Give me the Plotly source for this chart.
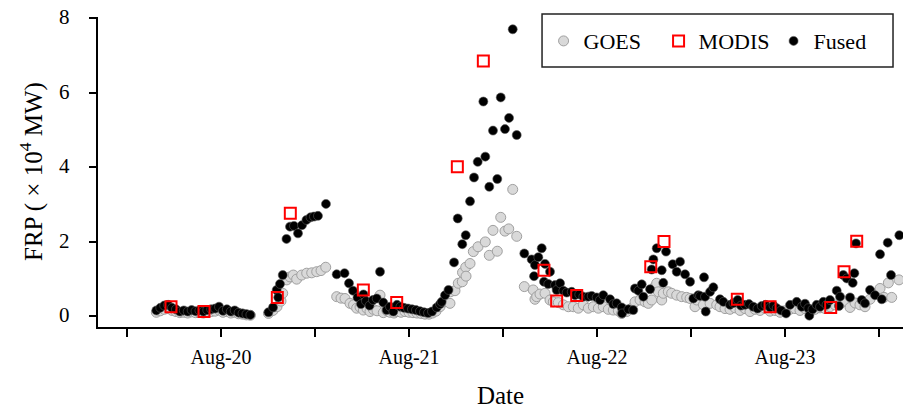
import plotly.graph_objects as go

# hours since Aug-19 00:00
goes_hours = [15.75, 16.25, 16.75, 17.25, 17.75, 18.25, 18.75, 19.25, 19.75, 20.25, 20.75, 21.25, 21.75,
              22.25, 22.75, 23.25, 23.75, 24.25, 24.75, 25.25, 25.75, 26.25, 26.75, 27.25, 27.75,
              30.06, 30.64, 31.15, 31.66, 31.88, 32.39, 32.81, 33.23, 33.66, 34.30, 34.94, 35.58, 36.22, 36.77, 37.37,
              38.77, 39.32, 39.83, 40.47, 40.92, 41.32, 41.75, 42.17, 42.64, 43.02, 43.44, 43.92, 44.30, 44.72,
              45.19, 45.57, 46.09, 46.47, 46.98, 47.49, 48.00, 48.51, 49.02, 49.53, 50.04, 50.55, 51.00, 51.45,
              51.96, 52.47, 53.23, 53.29, 53.87, 54.29, 54.80, 54.83, 55.24, 55.28, 55.79, 56.21, 56.81, 57.74,
              58.25, 58.72, 59.27, 59.71, 60.25, 60.73, 61.24, 61.75, 62.72,
              63.85, 64.08, 64.30, 64.72, 65.36, 66.00, 66.42, 67.06, 67.70, 68.34, 68.98, 69.61, 70.25, 70.89,
              71.53, 72.17, 72.80, 73.44, 74.08, 74.72, 75.15, 75.79, 76.43, 76.85, 77.49, 78.13, 78.55, 78.98,
              79.40, 79.62, 79.83, 80.26, 80.46, 81.10, 81.53, 82.17, 82.81, 83.45, 83.88, 84.51, 84.73, 85.58,
              86.43, 87.28,
              87.70, 88.34, 88.98, 89.62, 90.26, 90.89, 91.53, 92.17, 92.81, 93.45, 94.09, 94.72, 95.36, 96.00,
              96.64, 97.28, 97.91, 98.55, 99.19, 99.83, 100.47, 101.11, 101.74, 102.38, 103.02, 103.66, 104.30,
              104.94, 105.57, 106.21, 106.85, 107.49, 108.13, 108.64, 109.19, 109.62, 110.55]
goes_frp = [0.10, 0.14, 0.18, 0.20, 0.15, 0.12, 0.09, 0.10, 0.08, 0.11, 0.09, 0.10, 0.08,
            0.11, 0.12, 0.13, 0.16, 0.10, 0.12, 0.08, 0.10, 0.06, 0.05, 0.03, 0.02,
            0.07, 0.15, 0.25, 0.40, 0.61, 0.97, 1.05, 1.10, 0.99, 1.10, 1.15, 1.16, 1.19, 1.22, 1.31,
            0.52, 0.48, 0.47, 0.34, 0.30, 0.21, 0.24, 0.16, 0.20, 0.12, 0.18, 0.14, 0.56, 0.09,
            0.14, 0.10, 0.08, 0.12, 0.10, 0.12, 0.10, 0.09, 0.08, 0.07, 0.05, 0.05, 0.08, 0.13,
            0.25, 0.38, 0.34, 0.65, 0.68, 0.88, 0.92, 1.17, 1.31, 1.07, 1.41, 1.73, 1.86, 1.99,
            1.63, 2.30, 1.74, 2.65, 2.28, 2.34, 3.40, 2.14, 0.79,
            0.70, 0.45, 0.52, 0.59, 0.61, 0.43, 0.38, 0.36, 0.30, 0.25, 0.25, 0.21, 0.30, 0.21,
            0.25, 0.21, 0.25, 0.18, 0.16, 0.14, 0.07, 0.12, 0.21, 0.38, 0.43, 0.38, 0.34, 0.43,
            0.79, 0.88, 0.65, 0.43, 0.61, 0.65, 0.61, 0.56, 0.52, 0.50, 0.47, 0.25, 0.43, 0.30,
            0.34, 0.30,
            0.25, 0.20, 0.18, 0.22, 0.15, 0.20, 0.12, 0.18, 0.15, 0.20, 0.13, 0.15, 0.10, 0.14,
            0.18, 0.20, 0.15, 0.20, 0.12, 0.18, 0.22, 0.20, 0.25, 0.30, 0.32, 0.40, 0.23,
            0.35, 0.30, 0.25, 0.45, 0.60, 0.74, 0.50, 0.89, 0.50, 0.97]

modis_hours = [17.62, 21.83, 31.19, 32.85, 42.17, 46.43, 54.17, 57.49, 65.23, 66.85, 69.41,
               78.86, 80.55, 89.91, 94.09, 101.83, 103.53, 105.15]
modis_frp = [0.25, 0.12, 0.50, 2.76, 0.70, 0.36, 4.01, 6.85, 1.23, 0.40, 0.55,
             1.32, 2.00, 0.45, 0.25, 0.23, 1.19, 2.01]

fused_hours = [15.75, 16.25, 16.75, 17.25, 17.75, 18.25, 18.75, 19.25, 19.75, 20.25, 20.75, 21.25, 21.75,
               22.25, 22.75, 23.25, 23.75, 24.25, 24.75, 25.25, 25.75, 26.25, 26.75, 27.25, 27.75,
               30.06, 30.64, 31.11, 31.31, 31.53, 31.88, 32.36, 32.81, 33.32, 33.83, 34.34, 34.91, 35.43,
               35.87, 36.38, 37.40,
               38.77, 39.77, 40.34, 40.85, 41.43, 41.87, 42.19, 42.51, 42.96, 43.40, 43.88, 44.30, 44.72,
               45.15, 45.57, 46.00, 46.47, 46.91, 47.36, 47.87, 48.38, 48.89, 49.40, 49.91, 50.43, 50.94,
               51.54, 51.96, 52.17, 52.60, 53.04, 53.75, 54.22, 54.80, 55.24, 55.79, 56.30, 56.77, 57.49,
               57.74, 58.25, 58.72, 59.27, 59.71, 60.25, 60.77, 61.24, 61.75, 62.72,
               63.66, 63.96, 64.08, 64.51, 64.94, 65.23, 65.36, 65.78, 66.00, 66.64, 66.85, 67.28, 67.70,
               68.13, 68.77, 69.19, 69.74, 70.25, 70.89, 71.32, 71.96, 72.38, 72.80, 73.66, 74.08, 74.51,
               75.15, 75.20, 76.00, 76.63, 76.85, 77.27, 77.71, 77.91, 78.77, 78.98, 79.19, 79.62, 80.26,
               80.46, 80.81, 81.66, 82.17, 82.60, 83.24, 83.88, 84.30, 84.93, 85.15, 85.66,
               85.79, 85.88, 86.43, 86.85, 87.70, 88.13, 88.98, 89.42, 89.96, 90.38, 90.89, 91.40, 91.95,
               92.49, 93.03, 93.51, 94.09, 94.53, 94.94, 95.49, 96.13, 96.64, 97.49, 98.13, 98.55, 98.97,
               99.10, 99.51, 100.04, 100.47, 100.89, 101.30, 101.74, 102.60, 102.89, 103.02, 103.44, 103.88,
               104.30, 104.64, 104.85, 105.06, 105.79, 106.21, 106.85, 107.49, 108.13, 108.35, 109.11,
               109.53, 110.59]
fused_frp = [0.15, 0.22, 0.28, 0.30, 0.22, 0.18, 0.12, 0.15, 0.12, 0.16, 0.13, 0.15, 0.12,
             0.16, 0.18, 0.20, 0.25, 0.14, 0.18, 0.12, 0.15, 0.09, 0.07, 0.05, 0.03,
             0.10, 0.23, 0.70, 0.50, 0.86, 1.10, 2.07, 2.40, 2.42, 2.22, 2.44, 2.58, 2.65,
             2.67, 2.69, 3.01,
             1.12, 1.15, 0.88, 0.68, 0.50, 0.32, 0.58, 0.40, 0.28, 0.43, 0.47, 1.19, 0.36,
             0.16, 0.25, 0.12, 0.30, 0.25, 0.22, 0.20, 0.18, 0.16, 0.13, 0.10, 0.08, 0.12,
             0.23, 0.32, 0.38, 0.56, 0.70, 1.44, 2.62, 1.93, 2.17, 3.08, 3.72, 4.14, 5.76,
             4.28, 3.47, 4.98, 3.68, 5.87, 5.02, 5.32, 7.70, 4.86, 1.68,
             1.52, 1.07, 1.37, 1.58, 1.82, 0.92, 1.40, 0.86, 1.19, 0.83, 0.70, 0.88, 0.68,
             0.63, 0.65, 0.56, 0.58, 0.52, 0.52, 0.54, 0.50, 0.43, 0.56, 0.45, 0.32, 0.34,
             0.23, 0.07, 0.18, 0.16, 0.74, 0.68, 0.85, 0.52, 0.72, 1.25, 1.52, 1.82, 1.23,
             0.89, 1.73, 1.39, 1.19, 1.46, 1.12, 0.92, 0.47, 0.56, 0.54, 1.04,
             0.52, 0.12, 0.65, 0.77, 0.45, 0.38, 0.30, 0.35, 0.43, 0.28, 0.30, 0.32, 0.25,
             0.20, 0.27, 0.30, 0.23, 0.28, 0.21, 0.15, 0.07, 0.30, 0.38, 0.25, 0.33, 0.21,
             0.01, 0.18, 0.30, 0.25, 0.38, 0.30, 0.43, 0.68, 0.27, 0.52, 1.10, 1.01,
             0.50, 0.89, 1.15, 1.95, 0.43, 0.34, 0.70, 0.56, 1.66, 0.45, 1.97,
             1.10, 2.17]

day_tick_hours = [24, 48, 72, 96]
day_tick_labels = ["Aug-20", "Aug-21", "Aug-22", "Aug-23"]
half_day_tick_hours = [12, 36, 60, 84, 108]
y_ticks = [0, 2, 4, 6, 8]
y_tick_labels = ["0", "2", "4", "6", "8"]

FONT = "Liberation Serif"

fig = go.Figure()
fig.add_trace(go.Scatter(
    x=goes_hours, y=goes_frp, mode="markers", name="GOES", legendrank=1,
    marker=dict(symbol="circle", size=10, color="#d9d9d9", line=dict(color="#a0a0a0", width=1))))
fig.add_trace(go.Scatter(
    x=fused_hours, y=fused_frp, mode="markers", name="Fused", legendrank=3,
    marker=dict(symbol="circle", size=9, color="black", line=dict(color="#555555", width=0.6))))
fig.add_trace(go.Scatter(
    x=modis_hours, y=modis_frp, mode="markers", name="MODIS", legendrank=2,
    marker=dict(symbol="square-open", size=11, color="#ff0000", line=dict(color="#ff0000", width=2))))

# legend frame
fig.add_shape(type="rect", xref="paper", yref="paper",
              x0=0.5516, x1=0.9876, y0=0.8387, y1=1.0097,
              line=dict(color="#222222", width=1.5), fillcolor="white", layer="above")

# y tick labels and title as text placed beside the axis
for v, lab in zip(y_ticks, y_tick_labels):
    fig.add_annotation(x=-0.0323, xref="paper", y=v, yref="y", text=lab, showarrow=False,
                       xanchor="right", yanchor="middle", yshift=1,
                       font=dict(family=FONT, size=21, color="black"))
fig.add_annotation(x=-0.0832, xref="paper", y=0.5, yref="paper",
                   text="FRP ( × 10<sup>4</sup> MW)", textangle=-90, showarrow=False,
                   xanchor="center", yanchor="middle",
                   font=dict(family=FONT, size=25, color="black"))

fig.update_layout(
    template="none",
    width=903, height=410,
    margin=dict(l=98, r=0, t=17, b=83, autoexpand=False),
    plot_bgcolor="white", paper_bgcolor="white",
    font=dict(family=FONT, color="black"),
    legend=dict(orientation="h", x=0.5535, y=0.99, xanchor="left", yanchor="top",
                borderwidth=0, bgcolor="rgba(0,0,0,0)",
                font=dict(family=FONT, size=22, color="black"),
                entrywidth=70, entrywidthmode="pixels"),
    xaxis=dict(range=[8.3, 111.06], tickmode="array", tickvals=day_tick_hours, ticktext=day_tick_labels,
               ticks="outside", ticklen=8, tickwidth=1.5, tickcolor="black",
               minor=dict(tickmode="array", tickvals=half_day_tick_hours, ticks="outside",
                          ticklen=8, tickwidth=1.5, tickcolor="black", showgrid=False),
               showline=True, linecolor="black", linewidth=2, showgrid=False, zeroline=False,
               automargin=False,
               tickfont=dict(family=FONT, size=20), ticklabelstandoff=3,
               title=dict(text="Date", font=dict(family=FONT, size=25), standoff=18)),
    yaxis=dict(range=[-0.295, 8.03], tickmode="array", tickvals=y_ticks,
               ticks="outside", ticklen=7, tickwidth=1.5, tickcolor="black",
               showline=True, linecolor="black", linewidth=2, showgrid=False, zeroline=False,
               automargin=False, showticklabels=False),
)

fig.write_html("out.html", config={"displayModeBar": False},
               post_script="document.body.style.margin='0';document.body.style.overflow='hidden';")
